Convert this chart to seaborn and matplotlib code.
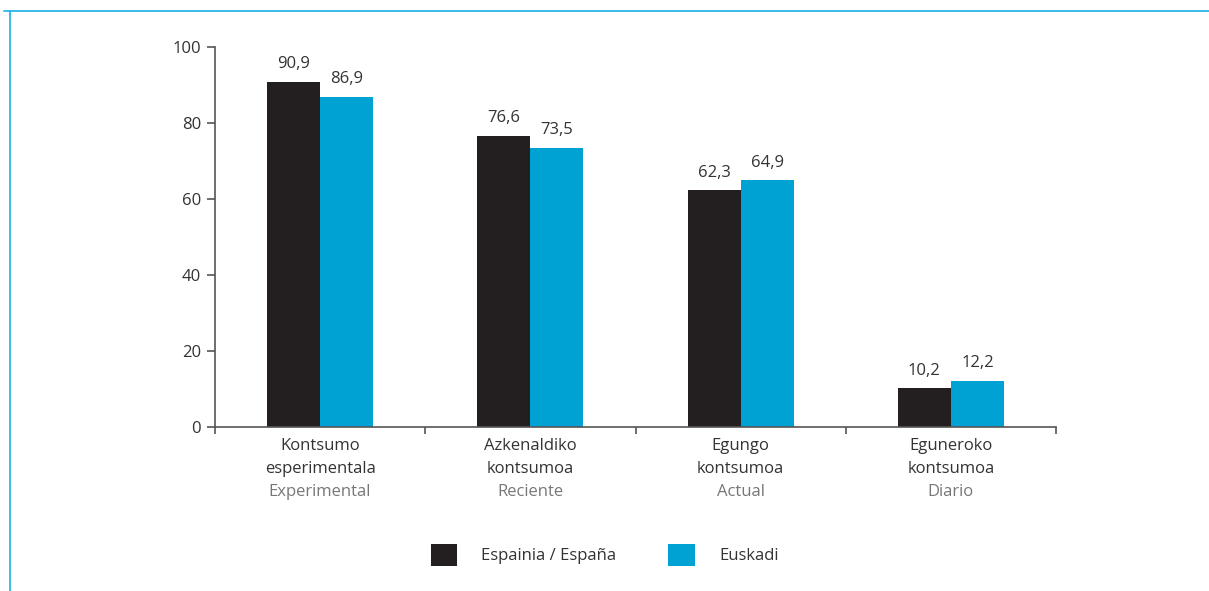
import matplotlib
matplotlib.use("Agg")
import matplotlib.pyplot as plt
from matplotlib.lines import Line2D
from matplotlib.patches import Patch
import pandas as pd
import seaborn as sns

# Consumption categories (Basque / Spanish) and prevalence values (%)
categories_eu = ["Kontsumo\nesperimentala", "Azkenaldiko\nkontsumoa",
                 "Egungo\nkontsumoa", "Eguneroko\nkontsumoa"]
categories_es = ["Experimental", "Reciente", "Actual", "Diario"]
series_names = ["Espainia / España", "Euskadi"]
espana = [90.9, 76.6, 62.3, 10.2]
euskadi = [86.9, 73.5, 64.9, 12.2]
y_ticks = [0, 20, 40, 60, 80, 100]

colors = ["#231f20", "#00a1d3"]
frame_blue = "#2bb6e6"
dark_text = "#333333"
grey_text = "#777777"

df = pd.DataFrame({
    "cat": categories_eu * 2,
    "serie": [series_names[0]] * 4 + [series_names[1]] * 4,
    "valor": espana + euskadi,
})

sns.set_theme(style="white")
plt.rcParams["font.family"] = ["Open Sans", "DejaVu Sans"]

fig = plt.figure(figsize=(12.09, 5.91), dpi=100)
ax = fig.add_axes([215 / 1209, 1 - 427 / 591, (1056 - 215) / 1209, (427 - 47) / 591])

sns.barplot(data=df, x="cat", y="valor", hue="serie", order=categories_eu,
            hue_order=series_names, palette=colors, saturation=1,
            width=0.505, gap=0, linewidth=0, ax=ax, legend=False)

# value labels with decimal comma
for cont in ax.containers:
    vals = cont.datavalues
    ax.bar_label(cont, labels=[f"{v:.1f}".replace(".", ",") for v in vals],
                 padding=7, fontsize=12, color=dark_text)

ax.set_ylim(0, 100)
ax.set_xlim(-0.5, 3.5)
ax.set_yticks(y_ticks)
ax.set_yticklabels([str(t) for t in y_ticks], fontsize=12, color=dark_text)
ax.set_xticks(range(4))
ax.set_xticklabels([""] * 4)
ax.set_xticks([-0.5, 0.5, 1.5, 2.5, 3.5], minor=True)
ax.tick_params(axis="x", which="major", length=0)
ax.tick_params(axis="x", which="minor", length=5, width=1.2, color="#555555", bottom=True)
ax.tick_params(axis="y", length=6, width=1.2, color="#555555", left=True, pad=4)
ax.set_xlabel("")
ax.set_ylabel("")
sns.despine(ax=ax)
for s in ("left", "bottom"):
    ax.spines[s].set_color("#555555")
    ax.spines[s].set_linewidth(1.2)

# category names: two Basque lines in dark grey, Spanish line in lighter grey
for i, (eu, es) in enumerate(zip(categories_eu, categories_es)):
    lines = eu.split("\n") + [es]
    for k, (txt, col) in enumerate(zip(lines, [dark_text, dark_text, grey_text])):
        ax.annotate(txt, xy=(i, 0), xycoords=("data", "axes fraction"),
                    xytext=(0, -13.5 - 16.6 * k), textcoords="offset points",
                    ha="center", va="center", fontsize=12, color=col)

# legend
handles = [Patch(facecolor=c, edgecolor="none") for c in colors]
fig.legend(handles, series_names, loc="center", bbox_to_anchor=(0.5, 1 - 555 / 591),
           ncol=2, frameon=False, fontsize=12, handlelength=1.6, handleheight=1.6,
           handletextpad=1.45, columnspacing=3.1, labelcolor=dark_text)

# blue frame lines along top and left edges
fig.add_artist(Line2D([4 / 1209, 1], [1 - 10.5 / 591] * 2, color=frame_blue,
                      lw=1.3, transform=fig.transFigure))
fig.add_artist(Line2D([9.5 / 1209] * 2, [1 - 10.5 / 591, 0], color=frame_blue,
                      lw=1.3, transform=fig.transFigure))

fig.savefig("out.png", dpi=100)
